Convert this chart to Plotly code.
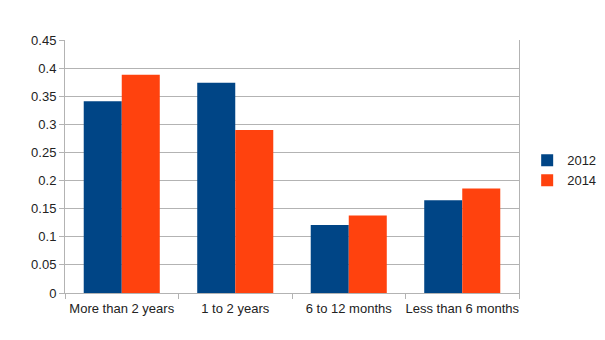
import plotly.graph_objects as go

categories = ["More than 2 years", "1 to 2 years", "6 to 12 months", "Less than 6 months"]
values_2012 = [0.341, 0.374, 0.121, 0.165]
values_2014 = [0.388, 0.290, 0.138, 0.186]
y_ticks = [0, 0.05, 0.1, 0.15, 0.2, 0.25, 0.3, 0.35, 0.4, 0.45]
y_tick_labels = ["0", "0.05", "0.1", "0.15", "0.2", "0.25", "0.3", "0.35", "0.4", "0.45"]

fig = go.Figure()
fig.add_trace(go.Bar(name="2012", x=categories, y=values_2012, marker=dict(color="#004586", line=dict(width=0))))
fig.add_trace(go.Bar(name="2014", x=categories, y=values_2014, marker=dict(color="#ff420e", line=dict(width=0))))

fig.update_layout(
    width=605, height=340,
    margin=dict(l=65, r=86, t=40, b=47, autoexpand=False),
    paper_bgcolor="white", plot_bgcolor="white",
    barmode="group", bargap=0.33, bargroupgap=0,
    font=dict(family="Liberation Sans, Arial, sans-serif", size=13, color="#222222"),
    legend=dict(x=1.018, y=0.485, xanchor="left", yanchor="middle",
                font=dict(size=13), itemwidth=30, tracegroupgap=0),
    xaxis=dict(showgrid=False, ticks="outside", tickson="boundaries", ticklen=5,
               tickcolor="#b3b3b3", showline=True, linecolor="#b3b3b3", linewidth=1,
               tickfont=dict(size=13), tickangle=0, automargin=False,
               ticklabelstandoff=3),
    yaxis=dict(range=[0, 0.45], tickvals=y_ticks, ticktext=y_tick_labels,
               showgrid=True, gridcolor="#b3b3b3", gridwidth=1,
               ticks="outside", ticklen=5, tickcolor="#b3b3b3",
               showline=True, linecolor="#b3b3b3", mirror=True, linewidth=1,
               zeroline=False, tickfont=dict(size=13), automargin=False),
)
fig.write_html("out.html")
